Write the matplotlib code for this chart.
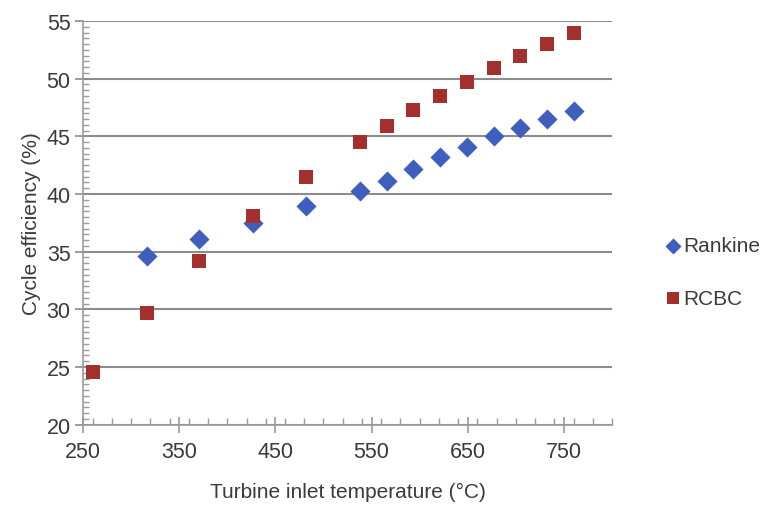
import matplotlib
matplotlib.use("Agg")
import matplotlib.pyplot as plt
from matplotlib.ticker import MultipleLocator

plt.rcParams['font.family'] = ['Liberation Sans', 'DejaVu Sans']

# Turbine inlet temperatures (°C)
rankine_temp = [316, 371, 427, 482, 538, 566, 593, 621, 649, 677, 704, 732, 760]
rankine_eff = [34.6, 36.1, 37.5, 39.0, 40.3, 41.1, 42.2, 43.2, 44.1, 45.0, 45.7, 46.5, 47.2]

rcbc_temp = [260, 316, 371, 427, 482, 538, 566, 593, 621, 649, 677, 704, 732, 760]
rcbc_eff = [24.6, 29.7, 34.2, 38.1, 41.5, 44.5, 45.9, 47.3, 48.5, 49.7, 50.9, 52.0, 53.0, 54.0]

x_ticks = [250, 350, 450, 550, 650, 750]
y_ticks = [20, 25, 30, 35, 40, 45, 50, 55]

text_color = "#3a3a3a"
grid_color = "#8c8c8c"
blue = "#3f5fbf"
red = "#a3302c"

fig = plt.figure(figsize=(7.66, 5.06), dpi=100)
ax = fig.add_axes([0.1084, 0.1587, 0.6906, 0.7978])

ax.scatter(rankine_temp, rankine_eff, marker="D", s=105, color=blue,
           label="Rankine", zorder=3, linewidths=0)
ax.scatter(rcbc_temp, rcbc_eff, marker="s", s=100, color=red,
           label="RCBC", zorder=3, linewidths=0)

ax.set_xlim(250, 800)
ax.set_ylim(20, 55)
ax.set_xticks(x_ticks)
ax.set_yticks(y_ticks)
ax.xaxis.set_minor_locator(MultipleLocator(20))
ax.yaxis.set_minor_locator(MultipleLocator(0.5))

ax.yaxis.grid(True, which="major", color=grid_color, linewidth=1.5)
ax.set_axisbelow(True)

for side in ("top", "right"):
    ax.spines[side].set_visible(False)
for side in ("left", "bottom"):
    ax.spines[side].set_color("#9a9a9a")
    ax.spines[side].set_linewidth(1.2)

ax.tick_params(axis="x", which="major", direction="inout", length=12,
               width=1.2, color="#9a9a9a", labelsize=15.5,
               labelcolor=text_color, pad=6)
ax.tick_params(axis="x", which="minor", direction="in", length=5,
               width=1.0, color="#9a9a9a")
ax.tick_params(axis="y", which="major", direction="out", length=6,
               width=1.2, color=grid_color, labelsize=15.5,
               labelcolor=text_color, pad=3)
ax.tick_params(axis="y", which="minor", direction="in", length=4,
               width=1.0, color="#9a9a9a")

ax.set_xlabel("Turbine inlet temperature (°C)", fontsize=15,
              color=text_color, labelpad=14)
ax.set_ylabel("Cycle efficiency (%)", fontsize=15, color=text_color,
              labelpad=4)

leg = ax.legend(loc="center left", bbox_to_anchor=(1.06, 0.378),
                frameon=False, fontsize=15, handletextpad=0.0,
                labelspacing=1.6, markerscale=0.8, labelcolor=text_color,
                handlelength=1.0)

fig.savefig("out.png", dpi=100, facecolor="white")
